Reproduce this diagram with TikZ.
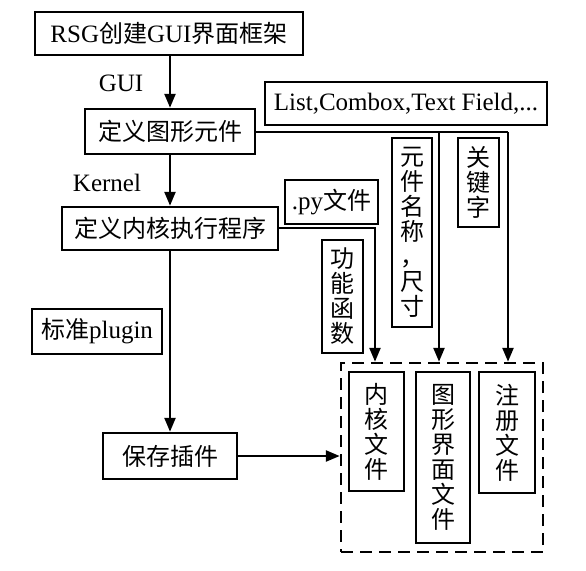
\documentclass[tikz,border=0pt]{standalone}
\usepackage{fontspec}
\setmainfont{Liberation Serif}
\newfontfamily\cjk{Noto Sans CJK SC}
\usetikzlibrary{arrows.meta}
\newcommand\zh[1]{{\cjk\fontsize{24}{25}\selectfont #1}}
\begin{document}
\begin{tikzpicture}[x=1pt,y=-1pt,
  box/.style={draw, line width=2.5pt, inner sep=0pt, align=center,
    font=\fontsize{25}{25}\selectfont},
  lbl/.style={inner sep=0pt, font=\fontsize{25}{25}\selectfont},
  vbox/.style={box, font=\cjk\fontsize{24}{25}\selectfont},
  link/.style={line width=2.5pt},
  arr/.style={line width=2.5pt, -{Triangle[width=11pt,length=14pt]}},
  dashbox/.style={draw, line width=2.5pt, dash pattern=on 12pt off 7pt}]
\useasboundingbox (0,0) rectangle (586,570);

\node[box, minimum width=268, minimum height=43] (b1) at (169,33.5) {RSG\zh{创建}GUI\zh{界面框架}};
\node[box, minimum width=170, minimum height=45] (b2) at (170,131.5) {\zh{定义图形元件}};
\node[box, minimum width=216, minimum height=43] (b3) at (170,228.5) {\zh{定义内核执行程序}};
\node[box, minimum width=282, minimum height=43] (list) at (406,103.5) {List,Combox,Text Field,...};
\node[box, minimum width=93, minimum height=44] (py) at (331.5,202) {.py\zh{文件}};
\node[vbox, minimum width=41, minimum height=113] (gn) at (342.5,296.5) {功\\能\\函\\数};
\node[vbox, minimum width=40, minimum height=189] (yj) at (412,232.5) {元\\件\\名\\称\\，\\尺\\寸};
\node[vbox, minimum width=41, minimum height=89] (gjz) at (478.5,182.5) {关\\键\\字};
\node[box, minimum width=130, minimum height=45] (plug) at (97,331.5) {\zh{标准}plugin};
\node[box, minimum width=134, minimum height=46] (save) at (170,456) {\zh{保存插件}};

\node[dashbox, minimum width=202, minimum height=189, inner sep=0pt] (dash) at (442,457.5) {};
\node[vbox, minimum width=55, minimum height=119] (nh) at (376.5,431.5) {内\\核\\文\\件};
\node[vbox, minimum width=54, minimum height=171] (tx) at (443,457.5) {图\\形\\界\\面\\文\\件};
\node[vbox, minimum width=56, minimum height=121] (zc) at (507,432.5) {注\\册\\文\\件};

\node[lbl] (gui) at (121,83) {GUI};
\node[lbl] (kern) at (107,183) {Kernel};

\coordinate (j1) at (439,132);
\coordinate (j2) at (508,132);
\coordinate (k1) at (375,228);

\draw[arr] (b2.north |- b1.south) -- (b2.north);
\draw[arr] (b2.south) -- (b3.north);
\draw[arr] (b3.south) -- (save.north);
\draw[link] (b2.east |- j1) -- (j2);
\draw[arr] (j1) -- (j1 |- dash.north);
\draw[arr] (j2) -- (j2 |- dash.north);
\draw[arr] (b3.east |- k1) -- (k1) -- (k1 |- dash.north);
\draw[arr] (save.east) -- (save.east -| dash.west);
\end{tikzpicture}
\end{document}
